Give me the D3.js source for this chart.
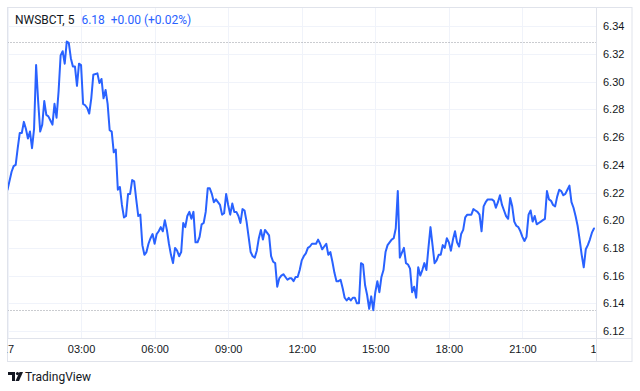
<!DOCTYPE html>
<html>
<head>
<meta charset="utf-8">
<script src="https://cdn.jsdelivr.net/npm/d3@7"></script>
<style>
  body { margin: 0; background: #fff; }
  svg { display: block; font-family: Roboto, "Noto Sans", sans-serif; }
</style>
</head>
<body>
<div class="chart_wrapper"></div>
<script>
// 5 minute closes, minutes after 00:00 on the 17th
const times = [
  0,10,15,20,25,30,35,40,45,50,55,60,65,70,75,80,85,90,95,100,105,110,115,120,125,
  130,135,140,145,150,155,160,165,170,175,180,185,190,195,200,205,210,220,225,230,
  235,240,245,250,255,260,265,270,275,280,285,290,295,300,305,310,315,320,325,330,
  335,340,345,350,355,360,365,370,375,380,385,390,395,400,405,410,415,420,425,430,
  435,440,445,450,455,460,465,470,475,480,485,490,495,500,505,510,515,520,525,530,
  535,540,545,550,555,560,565,570,575,580,585,590,595,600,605,610,615,620,625,630,
  635,640,645,650,655,660,665,670,675,680,685,690,695,700,705,710,715,720,725,730,
  735,740,745,750,755,760,765,770,775,780,785,790,795,800,805,810,815,820,825,830,
  835,840,845,850,855,860,865,870,875,880,885,890,895,900,905,910,915,920,925,930,
  935,940,945,950,955,960,970,975,980,985,990,995,1000,1005,1010,1015,1020,1025,
  1030,1035,1040,1045,1050,1055,1060,1065,1070,1075,1080,1085,1090,1095,1100,1105,
  1110,1115,1120,1125,1130,1135,1140,1145,1150,1155,1160,1165,1170,1175,1180,1185,
  1190,1195,1200,1205,1210,1215,1220,1225,1230,1235,1240,1245,1250,1255,1260,1265,
  1270,1275,1280,1285,1290,1295,1300,1305,1310,1315,1320,1325,1330,1335,1340,1345,
  1350,1355,1360,1365,1370,1375,1380,1385,1390,1395,1400,1405,1410,1415,1420,1425,
  1430,1435
]

const closes = [
  6.222,6.235,6.239,6.240,6.252,6.263,6.263,6.271,6.266,6.259,6.264,6.252,6.266,6.312,6.286,
  6.264,6.269,6.286,6.276,6.275,6.272,6.269,6.284,6.274,6.293,6.319,6.322,6.313,6.329,6.328,
  6.317,6.311,6.311,6.297,6.313,6.312,6.284,6.283,6.281,6.277,6.288,6.305,6.306,6.299,6.302,
  6.288,6.294,6.284,6.265,6.264,6.249,6.251,6.222,6.224,6.211,6.202,6.203,6.219,6.219,6.229,
  6.228,6.215,6.203,6.204,6.182,6.175,6.177,6.183,6.187,6.190,6.183,6.190,6.192,6.195,6.192,
  6.200,6.193,6.183,6.175,6.169,6.180,6.178,6.174,6.177,6.198,6.195,6.203,6.206,6.201,6.206,
  6.184,6.184,6.188,6.197,6.198,6.206,6.223,6.223,6.219,6.213,6.215,6.213,6.211,6.204,6.205,
  6.219,6.211,6.204,6.212,6.206,6.206,6.203,6.198,6.208,6.207,6.199,6.188,6.177,6.174,6.173,
  6.178,6.187,6.193,6.186,6.193,6.191,6.189,6.174,6.170,6.169,6.152,6.158,6.160,6.161,6.159,
  6.157,6.158,6.158,6.156,6.159,6.159,6.164,6.171,6.174,6.176,6.180,6.181,6.183,6.183,6.183,
  6.186,6.183,6.179,6.181,6.183,6.175,6.177,6.170,6.162,6.156,6.156,6.157,6.151,6.144,6.142,
  6.144,6.142,6.144,6.144,6.140,6.140,6.169,6.168,6.153,6.146,6.136,6.145,6.135,6.148,6.156,
  6.148,6.159,6.164,6.177,6.182,6.184,6.186,6.187,6.194,6.221,6.173,6.180,6.169,6.168,6.165,
  6.148,6.152,6.144,6.166,6.160,6.164,6.169,6.164,6.180,6.195,6.182,6.169,6.171,6.175,6.175,
  6.182,6.180,6.187,6.184,6.178,6.186,6.192,6.184,6.181,6.190,6.193,6.202,6.204,6.204,6.204,
  6.208,6.207,6.206,6.204,6.192,6.210,6.213,6.215,6.215,6.215,6.214,6.209,6.213,6.218,6.211,
  6.207,6.203,6.201,6.216,6.210,6.199,6.196,6.195,6.192,6.188,6.185,6.188,6.204,6.207,6.199,
  6.203,6.197,6.198,6.199,6.200,6.201,6.221,6.215,6.214,6.211,6.210,6.217,6.222,6.221,6.218,
  6.219,6.222,6.225,6.213,6.209,6.203,6.196,6.186,6.175,6.166,6.179,6.182,6.186,6.191,6.194
]

const priceTicks = [6.12,6.14,6.16,6.18,6.20,6.22,6.24,6.26,6.28,6.30,6.32,6.34]
const timeTicks = [0,180,360,540,720,900,1080,1260,1440]
const timeLabels = ["17","03:00","06:00","09:00","12:00","15:00","18:00","21:00","18"]

const symbol = "NWSBCT, 5"
const quote = "6.18  +0.00 (+0.02%)"

const dataset = times.map((t, i) => ({ t: t, close: closes[i] }))

let dimensions = {
  width: 640,
  height: 391,
  pane: { left: 7.5, right: 596, top: 7.5, bottom: 338.5 },
  axisRight: 632,
  axisBottom: 361.5,
}

const wrapper = d3.select(".chart_wrapper")
  .append("svg")
    .attr("width", dimensions.width)
    .attr("height", dimensions.height)

const xScale = d3.scaleLinear()
  .domain([0, 1440])
  .range([dimensions.pane.left, dimensions.pane.right])

const yScale = d3.scaleLinear()
  .domain([6.12, 6.34])
  .range([331, 26.3])

wrapper.append("defs")
  .append("clipPath")
    .attr("id", "paneClip")
  .append("rect")
    .attr("x", dimensions.pane.left)
    .attr("y", dimensions.pane.top)
    .attr("width", dimensions.pane.right - dimensions.pane.left)
    .attr("height", dimensions.axisBottom - dimensions.pane.top)

// grid
const grid = wrapper.append("g").attr("clip-path", "url(#paneClip)")

grid.selectAll(".hgrid")
  .data(priceTicks)
  .enter()
  .append("line")
    .attr("x1", dimensions.pane.left)
    .attr("x2", dimensions.pane.right)
    .attr("y1", d => Math.round(yScale(d)) + 0.5)
    .attr("y2", d => Math.round(yScale(d)) + 0.5)
    .attr("stroke", "#f0f3fa")

grid.selectAll(".vgrid")
  .data(timeTicks)
  .enter()
  .append("line")
    .attr("x1", d => Math.round(xScale(d)) + 0.5)
    .attr("x2", d => Math.round(xScale(d)) + 0.5)
    .attr("y1", dimensions.pane.top)
    .attr("y2", dimensions.pane.bottom)
    .attr("stroke", "#f0f3fa")

// high / low dotted lines
const hi = d3.max(closes)
const lo = d3.min(closes)

grid.selectAll(".hilo")
  .data([hi, lo])
  .enter()
  .append("line")
    .attr("x1", dimensions.pane.left)
    .attr("x2", dimensions.pane.right)
    .attr("y1", d => Math.round(yScale(d)) + 0.5)
    .attr("y2", d => Math.round(yScale(d)) + 0.5)
    .attr("stroke", "#9598a1")
    .attr("stroke-dasharray", "1 2")

// price line
const line = d3.line()
  .x(d => xScale(d.t))
  .y(d => yScale(d.close))

grid.append("path")
  .datum(dataset)
  .attr("d", line)
  .attr("fill", "none")
  .attr("stroke", "#2962ff")
  .attr("stroke-width", 2)
  .attr("stroke-linejoin", "round")
  .attr("stroke-linecap", "round")

// frame
const frame = wrapper.append("g")
  .attr("fill", "none")
  .attr("stroke", "#e0e3eb")

frame.append("rect")
  .attr("x", dimensions.pane.left)
  .attr("y", dimensions.pane.top)
  .attr("width", dimensions.axisRight - dimensions.pane.left)
  .attr("height", dimensions.axisBottom - dimensions.pane.top)

frame.append("line")
  .attr("x1", dimensions.pane.right + 0.5).attr("x2", dimensions.pane.right + 0.5)
  .attr("y1", dimensions.pane.top).attr("y2", dimensions.axisBottom)

frame.append("line")
  .attr("x1", dimensions.pane.left).attr("x2", dimensions.axisRight)
  .attr("y1", dimensions.pane.bottom).attr("y2", dimensions.pane.bottom)

// price axis
const yAxis = d3.axisRight(yScale)
  .tickValues(priceTicks)
  .tickFormat(d3.format(".2f"))
  .tickSize(0)
  .tickPadding(7)

const yAxisG = wrapper.append("g")
  .attr("transform", `translate(${dimensions.pane.right}, 0)`)
  .call(yAxis)
  .attr("class", "yAxis")

yAxisG.select(".domain").remove()
yAxisG.selectAll("text")
  .attr("fill", "#131722")
  .style("font-size", "11px")

// time axis
const xClip = wrapper.append("defs")
  .append("clipPath")
    .attr("id", "timeClip")
  .append("rect")
    .attr("x", dimensions.pane.left)
    .attr("y", dimensions.pane.bottom)
    .attr("width", dimensions.pane.right - dimensions.pane.left)
    .attr("height", dimensions.axisBottom - dimensions.pane.bottom)

const xAxis = d3.axisBottom(xScale)
  .tickValues(timeTicks)
  .tickFormat((d, i) => timeLabels[i])
  .tickSize(0)
  .tickPadding(7)

const xAxisG = wrapper.append("g")
  .attr("clip-path", "url(#timeClip)")
  .append("g")
  .attr("transform", `translate(0, ${dimensions.pane.bottom})`)
  .call(xAxis)
  .attr("class", "xAxis")

xAxisG.select(".domain").remove()
xAxisG.selectAll("text")
  .attr("fill", "#131722")
  .style("font-size", "11px")

// legend
const legend = wrapper.append("text")
  .attr("x", 15)
  .attr("y", 24)
  .style("font-size", "12px")

legend.append("tspan")
  .attr("fill", "#131722")
  .text(symbol)

legend.append("tspan")
  .attr("dx", 7)
  .attr("fill", "#2962ff")
  .style("white-space", "pre")
  .attr("xml:space", "preserve")
  .text(quote)

// logo
const logo = wrapper.append("g")
  .attr("transform", "translate(8, 372)")
  .attr("fill", "#131722")

logo.append("path")
  .attr("d", "M0 0 H7 V9 H4 V3 H0 Z")
logo.append("circle")
  .attr("cx", 9.5)
  .attr("cy", 1.6)
  .attr("r", 1.6)
logo.append("path")
  .attr("d", "M11.5 0 H15 L11 9 H7.5 Z")

wrapper.append("text")
  .attr("x", 25)
  .attr("y", 381)
  .attr("fill", "#131722")
  .style("font-size", "12px")
  .text("TradingView")
</script>
</body>
</html>
